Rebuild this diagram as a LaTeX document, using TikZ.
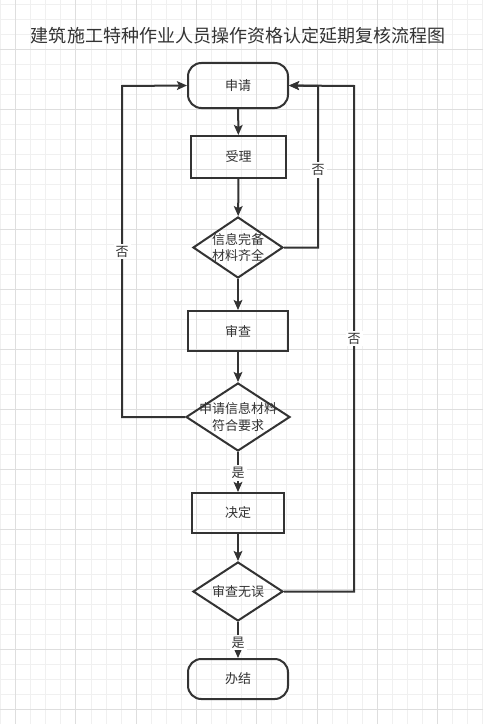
\documentclass[tikz,border=0pt]{standalone}
\usepackage{fontspec}
\newfontfamily\cjk{Noto Sans CJK SC}
\usetikzlibrary{shapes.geometric, arrows.meta, positioning}

\definecolor{inkgray}{HTML}{333333}
\definecolor{gridminor}{HTML}{F0F0F0}
\definecolor{gridmajor}{HTML}{DEDEDE}

\begin{document}
\begin{tikzpicture}[x=0.75pt, y=-0.75pt,
    every node/.style={font=\cjk\fontsize{9.75}{12.5}\selectfont, text=inkgray},
    term/.style={draw=inkgray, line width=1.5pt, rounded corners=10pt, minimum width=75pt},
    proc/.style={draw=inkgray, line width=1.5pt, rectangle},
    check/.style={draw=inkgray, line width=1.5pt, diamond, inner sep=0pt, align=center},
    flow/.style={draw=inkgray, line width=1.5pt, -{Stealth[length=7.5pt, width=6.5pt, inset=1.5pt]}},
    tag/.style={fill=white, inner sep=1.5pt}]

    % Background grid
    \useasboundingbox (0,0) rectangle (483,724);
    \fill[white] (0,0) rectangle (483,724);
    \foreach \k in {0,...,32}
        \draw[gridminor, line width=0.6pt] (15.07*\k+0.5,0) -- (15.07*\k+0.5,724);
    \foreach \k in {0,...,48}
        \draw[gridminor, line width=0.6pt] (0,15*\k+4) -- (483,15*\k+4);
    \foreach \k in {1,5,...,29}
        \draw[gridmajor, line width=0.6pt] (15.07*\k+0.5,0) -- (15.07*\k+0.5,724);
    \foreach \k in {3,7,...,47}
        \draw[gridmajor, line width=0.6pt] (0,15*\k+4) -- (483,15*\k+4);

    % Title
    \node[font=\cjk\fontsize{13.5}{16}\selectfont] (title) at (238,36) {建筑施工特种作业人员操作资格认定延期复核流程图};

    % Define nodes
    \node[term, minimum height=33.75pt] (apply) at (238,85.5) {申请};
    \node[proc, minimum width=71.25pt, minimum height=31.5pt] (accept) at (238.5,157) {受理};
    \node[check, minimum width=67.5pt, minimum height=45.75pt] (complete) at (238,247.5)
        {\makebox[0pt]{信息完备}\\\makebox[0pt]{材料齐全}};
    \node[proc, minimum width=75pt, minimum height=30pt] (review) at (238,331) {审查};
    \node[check, minimum width=78pt, minimum height=51pt] (meets) at (238,417)
        {\makebox[0pt]{申请信息材料}\\\makebox[0pt]{符合要求}};
    \node[proc, minimum width=69pt, minimum height=30pt] (decide) at (238,513) {决定};
    \node[check, minimum width=67.5pt, minimum height=44.25pt] (correct) at (238,591.5)
        {\makebox[0pt]{审查无误}};
    \node[term, minimum height=30pt] (done) at (238,679) {办结};

    % Corners of the return lines
    \coordinate (backa) at (318,86);
    \coordinate (backb) at (122,86);
    \coordinate (backc) at (354,86);

    % Draw edges
    \draw[flow] (apply) -- (accept);
    \draw[flow] (accept) -- (complete);
    \draw[flow] (complete) -- (review);
    \draw[flow] (review) -- (meets);
    \draw[flow] (meets) -- node[tag, pos=0.52] (yesa) {是} (decide);
    \draw[flow] (decide) -- (correct);
    \draw[flow] (correct) -- node[tag, pos=0.57] (yesb) {是} (done);

    \draw[flow] (complete.east) -| node[tag, pos=0.74] (noa) {否} (backa) -- (apply.east);
    \draw[flow] (meets.west) -| node[tag, pos=0.75] (nob) {否} (backb) -- (apply.west);
    \draw[flow] (correct.east) -| node[tag, pos=0.75] (noc) {否} (backc) -- (apply.east);

\end{tikzpicture}
\end{document}
